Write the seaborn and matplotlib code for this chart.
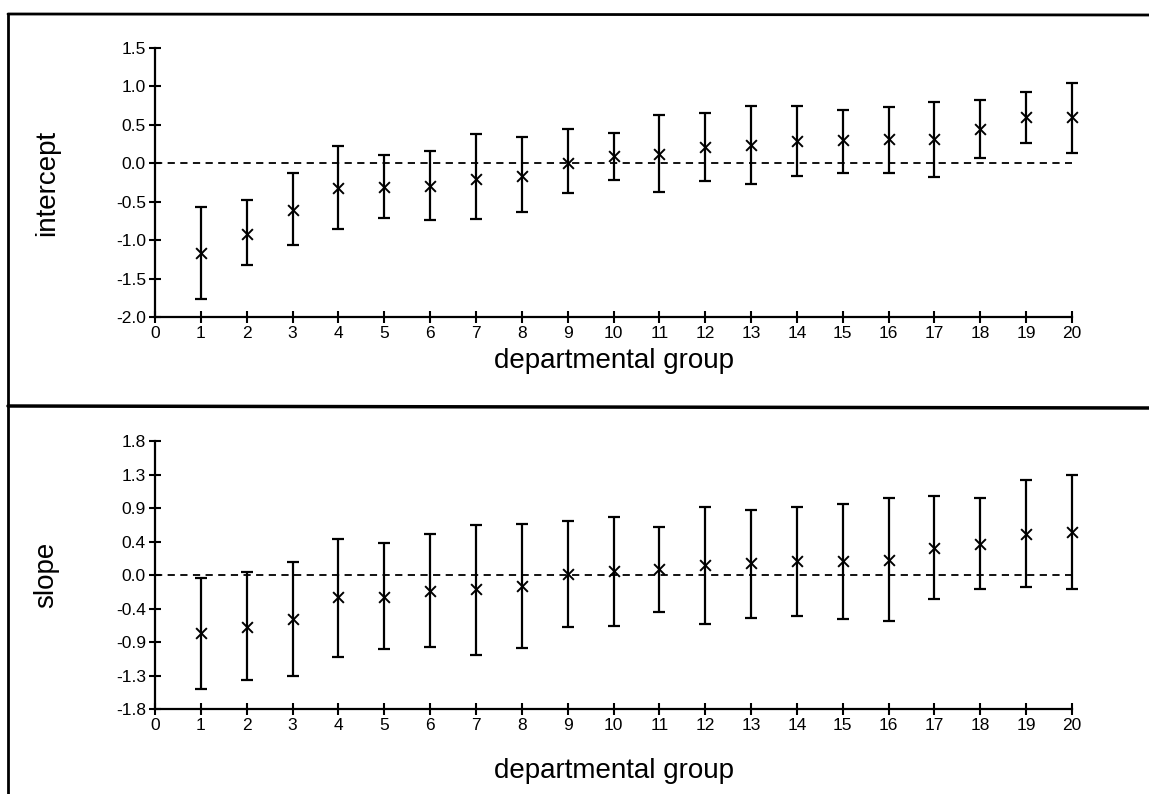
import numpy as np
import pandas as pd
import matplotlib
matplotlib.use("Agg")
import matplotlib.pyplot as plt
from matplotlib.lines import Line2D
import seaborn as sns

# values
groups = list(range(1, 21))

intercept_mean = [-1.17, -0.92, -0.61, -0.32, -0.31, -0.29, -0.20, -0.17, 0.01, 0.09,
                  0.12, 0.21, 0.24, 0.29, 0.30, 0.31, 0.31, 0.45, 0.60, 0.60]
intercept_low = [-1.77, -1.33, -1.06, -0.85, -0.71, -0.74, -0.72, -0.64, -0.39, -0.22,
                 -0.38, -0.23, -0.27, -0.16, -0.12, -0.12, -0.18, 0.07, 0.26, 0.14]
intercept_high = [-0.57, -0.48, -0.13, 0.22, 0.11, 0.16, 0.38, 0.34, 0.45, 0.40,
                  0.63, 0.65, 0.74, 0.74, 0.69, 0.73, 0.80, 0.83, 0.93, 1.04]

slope_mean = [-0.78, -0.70, -0.59, -0.30, -0.29, -0.21, -0.19, -0.14, 0.01, 0.05,
              0.08, 0.13, 0.16, 0.19, 0.19, 0.20, 0.36, 0.42, 0.55, 0.58]
slope_low = [-1.53, -1.41, -1.35, -1.10, -0.99, -0.97, -1.07, -0.98, -0.70, -0.68,
             -0.49, -0.66, -0.57, -0.55, -0.59, -0.62, -0.32, -0.19, -0.16, -0.18]
slope_high = [-0.04, 0.04, 0.18, 0.49, 0.43, 0.55, 0.67, 0.69, 0.73, 0.78,
              0.64, 0.91, 0.87, 0.91, 0.95, 1.04, 1.06, 1.03, 1.27, 1.35]

intercept_ticks = [-2.0, -1.5, -1.0, -0.5, 0.0, 0.5, 1.0, 1.5]
intercept_ticklabels = ["-2.0", "-1.5", "-1.0", "-0.5", "0.0", "0.5", "1.0", "1.5"]
slope_ticks = [-1.8, -1.35, -0.9, -0.45, 0.0, 0.45, 0.9, 1.35, 1.8]
slope_ticklabels = ["-1.8", "-1.3", "-0.9", "-0.4", "0.0", "0.4", "0.9", "1.3", "1.8"]
x_ticks = list(range(0, 21))

df = pd.DataFrame({
    "group": groups,
    "intercept": intercept_mean, "intercept_lo": intercept_low, "intercept_hi": intercept_high,
    "slope": slope_mean, "slope_lo": slope_low, "slope_hi": slope_high,
})

sns.set_theme(style="ticks")
plt.rcParams["font.family"] = ["Liberation Sans", "DejaVu Sans"]
plt.rcParams["axes.unicode_minus"] = False
plt.rcParams["text.color"] = "black"
plt.rcParams["axes.labelcolor"] = "black"

fig = plt.figure(figsize=(11.49, 7.94), dpi=100)
ax_top = fig.add_axes([0.1349, 0.6008, 0.7981, 0.3387])
ax_bot = fig.add_axes([0.1349, 0.1067, 0.7981, 0.3379])


def draw_panel(ax, col, ylabel, ticks, ticklabels, xpad):
    ax.axhline(0, color="black", lw=1.3, ls=(0, (4, 3)), xmin=0, xmax=1)
    eb = ax.errorbar(df["group"], df[col],
                     yerr=[df[col] - df[col + "_lo"], df[col + "_hi"] - df[col]],
                     fmt="none", ecolor="black", elinewidth=1.6, capsize=4, capthick=1.6)
    for art in eb.get_children():
        art.set_clip_on(False)
    sns.scatterplot(data=df, x="group", y=col, marker="x", color="black",
                    s=60, linewidth=1.4, ax=ax, clip_on=False, zorder=3)
    ax.set_xlim(0, 20)
    ax.set_ylim(ticks[0], ticks[-1])
    ax.set_xticks(x_ticks)
    ax.set_xticklabels([str(t) for t in x_ticks])
    ax.set_yticks(ticks)
    ax.set_yticklabels(ticklabels)
    ax.tick_params(direction="inout", length=9, width=1.5, labelsize=12.5,
                   colors="black", pad=2)
    for side in ["top", "right"]:
        ax.spines[side].set_visible(False)
    for side in ["left", "bottom"]:
        ax.spines[side].set_linewidth(1.6)
        ax.spines[side].set_color("black")
    ax.set_xlabel("departmental group", fontsize=20, labelpad=xpad)
    ax.set_ylabel(ylabel, fontsize=20, labelpad=0)
    ax.yaxis.set_label_coords(-0.104, 0.5)


draw_panel(ax_top, "intercept", "intercept", intercept_ticks, intercept_ticklabels, 5)
draw_panel(ax_bot, "slope", "slope", slope_ticks, slope_ticklabels, 18)

# frame lines of the original page
H, W = 794.0, 1149.0
fig.add_artist(Line2D([8 / W, 1], [1 - 14 / H, 1 - 15 / H], color="black", lw=2))
fig.add_artist(Line2D([8 / W, 8 / W], [0, 1 - 14 / H], color="black", lw=2))
fig.add_artist(Line2D([8 / W, 1], [1 - 406 / H, 1 - 408 / H], color="black", lw=2.5))

fig.savefig("out.png", dpi=100)
